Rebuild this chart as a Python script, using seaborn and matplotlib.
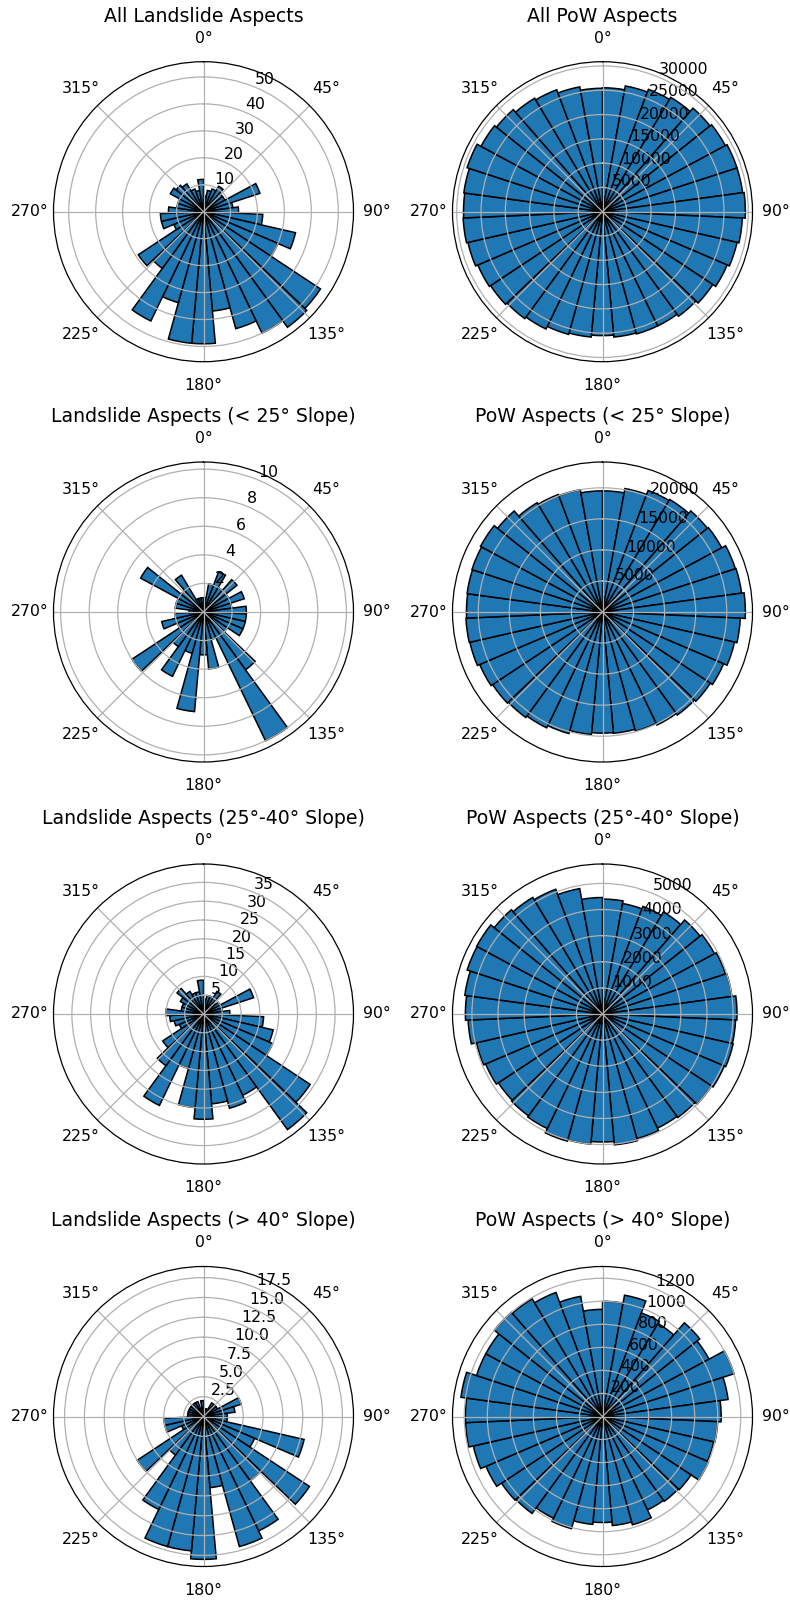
import numpy as np
import pandas as pd
import matplotlib
matplotlib.use("Agg")
import matplotlib.pyplot as plt
import seaborn as sns

# 35 equal aspect bins spanning the full circle
N_BINS = 35

# Landslide counts per aspect bin (bin 0 starts at north, clockwise)
landslide_all = [6, 8, 9, 11, 9, 9, 22, 11, 13, 22, 35, 30, 52, 53, 50, 45, 37, 49,
                 49, 35, 45, 26, 29, 12, 16, 16, 13, 10, 10, 14, 13, 12, 9, 8, 12]
landslide_lt25 = [1, 2, 3, 2, 3, 2, 3, 2, 3, 3, 3, 3, 2, 5, 10, 2, 4, 3,
                  7, 3, 5, 3, 6, 2, 3, 2, 1, 2, 2, 5, 2, 3, 1, 1, 1]
landslide_25_40 = [4, 5, 5, 7, 4, 5, 14, 5, 7, 16, 19, 20, 34, 38, 24, 26, 24, 28,
                   25, 15, 27, 17, 13, 7, 8, 9, 10, 6, 6, 7, 9, 7, 6, 6, 9]
landslide_gt40 = [1, 1, 1, 2, 2, 2, 5, 4, 3, 3, 13, 7, 16, 10, 16, 17, 9, 18,
                  17, 17, 13, 6, 10, 3, 5, 5, 2, 2, 2, 2, 2, 2, 2, 1, 2]

# Points-of-wandering (PoW) counts per aspect bin
pow_all = [25500, 26300, 26900, 27400, 28300, 28700, 29100, 29100, 29400, 28800,
           28400, 27900, 27200, 26600, 26100, 26100, 25900, 25500, 25900, 26200,
           26800, 27200, 27600, 27900, 28400, 28700, 28600, 28800, 29300, 28400,
           27900, 27200, 26800, 26100, 25400]
pow_lt25 = [19500, 20200, 20900, 21100, 21600, 21800, 22500, 22600, 23000, 22200,
            21800, 21200, 20800, 20500, 20200, 19900, 19600, 19500, 19800, 20300,
            20700, 21000, 21200, 21500, 21900, 22000, 21900, 22000, 22100, 22300,
            21600, 20500, 20200, 20000, 19500]
pow_25_40 = [4400, 4300, 4400, 4550, 4780, 4870, 4950, 5000, 5150, 5100,
             5130, 5070, 5000, 4900, 4850, 4950, 5030, 4900, 5000, 5050,
             4870, 4820, 4780, 4870, 4950, 5150, 5250, 5320, 5450, 5470,
             5300, 5200, 5100, 4880, 4460]
pow_gt40 = [1000, 1070, 960, 940, 1080, 1050, 1200, 1100, 1030, 1000,
            990, 1000, 920, 910, 900, 975, 950, 920, 940, 1010,
            980, 1040, 1050, 1100, 1150, 1190, 1190, 1240, 1150, 1150,
            1200, 1190, 1150, 1060, 930]

panel_titles = [
    "All Landslide Aspects", "All PoW Aspects",
    "Landslide Aspects (< 25° Slope)", "PoW Aspects (< 25° Slope)",
    "Landslide Aspects (25°-40° Slope)", "PoW Aspects (25°-40° Slope)",
    "Landslide Aspects (> 40° Slope)", "PoW Aspects (> 40° Slope)",
]
panel_counts = [landslide_all, pow_all, landslide_lt25, pow_lt25,
                landslide_25_40, pow_25_40, landslide_gt40, pow_gt40]

bin_edges = np.linspace(0.0, 2 * np.pi, N_BINS + 1)
bin_width = bin_edges[1] - bin_edges[0]

records = []
for title, counts in zip(panel_titles, panel_counts):
    for k, c in enumerate(counts):
        records.append({"panel": title, "theta": bin_edges[k], "count": c})
df = pd.DataFrame(records)

bar_color = sns.color_palette("tab10")[0]


def rose(data, color=None, **kws):
    ax = plt.gca()
    ax.set_theta_zero_location("N")
    ax.set_theta_direction(-1)
    ax.bar(data["theta"], data["count"], width=bin_width, align="edge",
           color=bar_color, edgecolor="black", linewidth=1.1, zorder=1)
    ax.set_ylim(0, data["count"].max() * 1.05)


g = sns.FacetGrid(df, col="panel", col_wrap=2, col_order=panel_titles,
                  subplot_kws={"projection": "polar"}, sharex=False, sharey=False,
                  despine=False, height=3, aspect=1)
g.map_dataframe(rose)

fig = g.figure
fig.set_size_inches(7.9, 16)

# square polar panels, 300 px across, on a 2 x 4 grid
W, H = 790.0, 1600.0
radius = 150.0
col_cx = [203.5, 602.5]
row_cy = [211.7, 612.0, 1014.0, 1416.5]

for i, ax in enumerate(g.axes.flat):
    r, c = divmod(i, 2)
    cx, cy = col_cx[c], row_cy[r]
    ax.set_position([(cx - radius) / W, 1 - (cy + radius) / H,
                     2 * radius / W, 2 * radius / H])
    ax.set_title(panel_titles[i], fontsize=13.6, y=1.124, va="center")
    ax.tick_params(labelsize=11.3)
    ax.tick_params(axis="x", pad=6.5)
    ax.grid(True, color="#b0b0b0", linewidth=0.9)
    ax.spines["polar"].set_linewidth(0.9)
    ax.set_xlabel("")
    ax.set_ylabel("")

fig.savefig("out.png", dpi=100)
